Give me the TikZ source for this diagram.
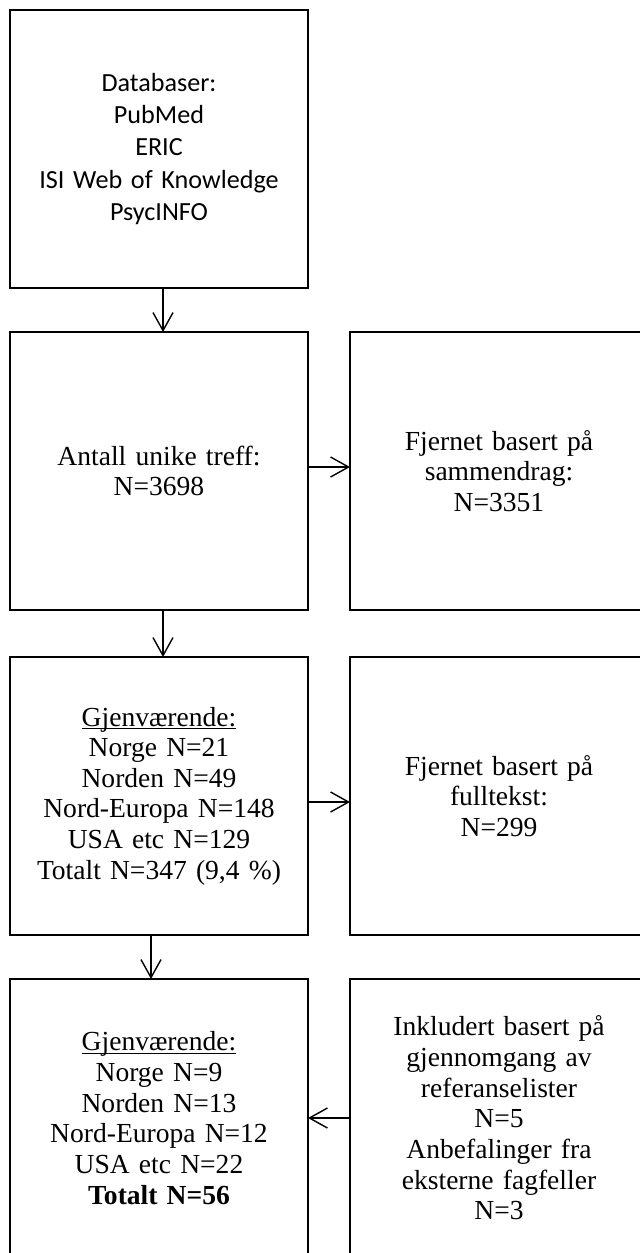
\documentclass[tikz,border=0pt]{standalone}
\usepackage{fontspec}
\setmainfont{Liberation Serif}
\newfontfamily\calibrifont{Carlito}
\usepackage{tikz}
\usetikzlibrary{positioning}
\usetikzlibrary{arrows.meta}

\newcommand{\understrek}[1]{\underline{\smash{#1}}\vphantom{#1}}

\tikzset{
  boks/.style={draw, line width=1.1pt, outer sep=0pt, inner sep=0pt,
    minimum width=7.45cm, minimum height=6.95cm, text width=7cm, align=center,
    font=\fontsize{19.6}{21.8}\selectfont},
  pil/.style={-{Straight Barb[length=0.45cm,width=0.5cm]}, line width=1pt}
}

\begin{document}
\begin{tikzpicture}
        \useasboundingbox (0,0) rectangle (16,-31.325);
        \clip (0,0) rectangle (16,-31.325);
        % nodes %
        \node[boks, font=\calibrifont\fontsize{18.6}{22.8}\selectfont] (db) at (3.975,-3.725)
            {Databaser:\\PubMed\\ERIC\\ISI Web of Knowledge\\PsycINFO};
        \node[boks, below = 1.1 of db] (treff) {Antall unike treff:\\N=3698};
        \node[boks, right = 1.05 of treff] (sammendrag) {Fjernet basert på\\sammendrag:\\N=3351};
        \node[boks, below = 1.175 of treff] (rest1)
            {\understrek{Gjenværende:}\\Norge N=21\\Norden N=49\\Nord-Europa N=148\\USA etc N=129\\Totalt N=347 (9,4 \%)};
        \node[boks, right = 1.05 of rest1] (fulltekst) {Fjernet basert på\\fulltekst:\\N=299};
        \node[boks, below = 1.1 of rest1] (rest2)
            {\understrek{Gjenværende:}\\Norge N=9\\Norden N=13\\Nord-Europa N=12\\USA etc N=22\\\textbf{Totalt N=56}};
        \node[boks, right = 1.05 of rest2] (inkl)
            {Inkludert basert på\\gjennomgang av\\referanselister\\N=5\\Anbefalinger fra\\eksterne fagfeller\\N=3};
        % edges %
        \draw[pil] ([xshift=0.1cm]db.south) -- ([xshift=0.1cm]treff.north);
        \draw[pil] ([yshift=0.1cm]treff.east) -- ([yshift=0.1cm]sammendrag.west);
        \draw[pil] ([xshift=0.1cm]treff.south) -- ([xshift=0.1cm]rest1.north);
        \draw[pil] ([yshift=-0.15cm]rest1.east) -- ([yshift=-0.15cm]fulltekst.west);
        \draw[pil] ([xshift=-0.2cm]rest1.south) -- ([xshift=-0.2cm]rest2.north);
        \draw[pil] (inkl.west) -- (rest2.east);
\end{tikzpicture}
\end{document}
